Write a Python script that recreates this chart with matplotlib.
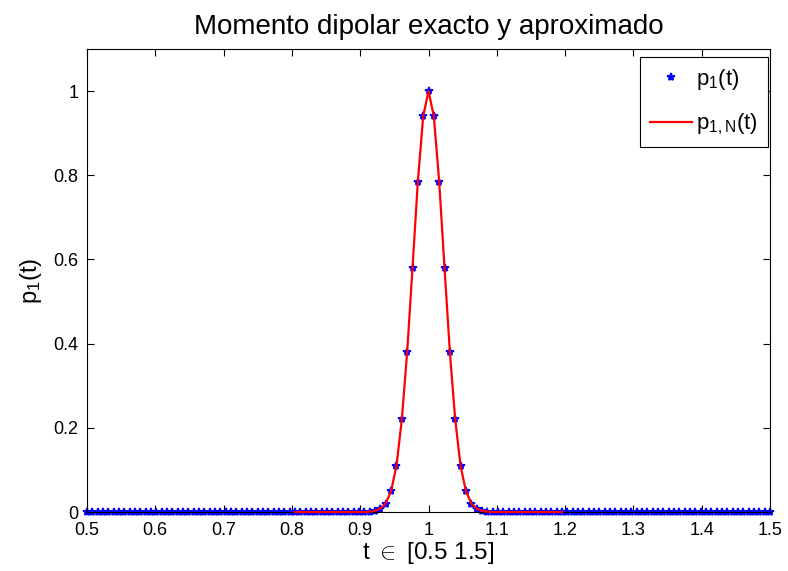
import numpy as np
import matplotlib
matplotlib.use("Agg")
import matplotlib.pyplot as plt

plt.rcParams['font.family'] = ['Liberation Sans', 'DejaVu Sans']
plt.rcParams['mathtext.fontset'] = 'custom'
plt.rcParams['mathtext.rm'] = 'Liberation Sans'
plt.rcParams['mathtext.it'] = 'Liberation Sans'

# time grid: 129 samples on [0.5, 1.5]
t_start, t_end, n_samples = 0.5, 1.5, 129
# the approximation is evaluated on [0.8, 1.2] only
tN_start, tN_end = 0.8, 1.2

# exact dipole moment around the pulse centre (t = 1), symmetric
p1_center = [0.0005, 0.002, 0.007, 0.02, 0.05, 0.11, 0.22, 0.38, 0.58, 0.785, 0.94,
             1.0,
             0.94, 0.785, 0.58, 0.38, 0.22, 0.11, 0.05, 0.02, 0.007, 0.002, 0.0005]
# approximated moment p_{1,N}
p1N_center = [0.0008, 0.003, 0.008, 0.021, 0.05, 0.11, 0.22, 0.38, 0.58, 0.785, 0.94,
              1.0,
              0.94, 0.785, 0.58, 0.38, 0.22, 0.11, 0.05, 0.021, 0.008, 0.003, 0.0008]

t = np.linspace(t_start, t_end, n_samples)
pad = (n_samples - len(p1_center)) // 2
p1 = np.concatenate([np.zeros(pad), p1_center, np.zeros(pad)])
p1N = np.concatenate([np.zeros(pad), p1N_center, np.zeros(pad)])
mask = (t >= tN_start - 1e-9) & (t <= tN_end + 1e-9)

x_ticks = [0.5, 0.6, 0.7, 0.8, 0.9, 1.0, 1.1, 1.2, 1.3, 1.4, 1.5]
x_tick_labels = ['0.5', '0.6', '0.7', '0.8', '0.9', '1', '1.1', '1.2', '1.3', '1.4', '1.5']
y_ticks = [0, 0.2, 0.4, 0.6, 0.8, 1.0]
y_tick_labels = ['0', '0.2', '0.4', '0.6', '0.8', '1']

fig = plt.figure(figsize=(7.88, 5.71), dpi=100)
ax = fig.add_axes([0.1104, 0.1033, 0.8668, 0.8109])

ax.plot(t, p1, linestyle='none', marker='*', markersize=6, color='#0000ff',
        markeredgewidth=1.2, label=r'p$_1$(t)', zorder=2, clip_on=False)
ax.plot(t[mask], p1N[mask], color='#ff0000', linewidth=1.6,
        label=r'p$_{1,N}$(t)', zorder=3, clip_on=False)

ax.set_xlim(0.5, 1.5)
ax.set_ylim(0, 1.1)
ax.set_xticks(x_ticks)
ax.set_xticklabels(x_tick_labels)
ax.set_yticks(y_ticks)
ax.set_yticklabels(y_tick_labels)
ax.tick_params(direction='in', top=True, right=True, labelsize=13, length=5,
               width=0.8)
ax.tick_params(axis='x', pad=7)
ax.tick_params(axis='y', pad=6)
for s in ax.spines.values():
    s.set_linewidth(0.8)

ax.set_title('Momento dipolar exacto y aproximado', fontsize=20, pad=11)
ax.set_xlabel(r't $\in$ [0.5 1.5]', fontsize=17.5, labelpad=1)
ax.set_ylabel(r'p$_1$(t)', fontsize=17, labelpad=7)

leg = ax.legend(loc='upper right', bbox_to_anchor=(0.997, 0.983),
                borderaxespad=0, fontsize=16, fancybox=False, framealpha=1,
                edgecolor='black', borderpad=0.45, handlelength=1.9,
                handletextpad=0.2, labelspacing=0.9)
leg.get_frame().set_linewidth(0.8)
leg.set_zorder(5)

fig.savefig('out.png', dpi=100)
